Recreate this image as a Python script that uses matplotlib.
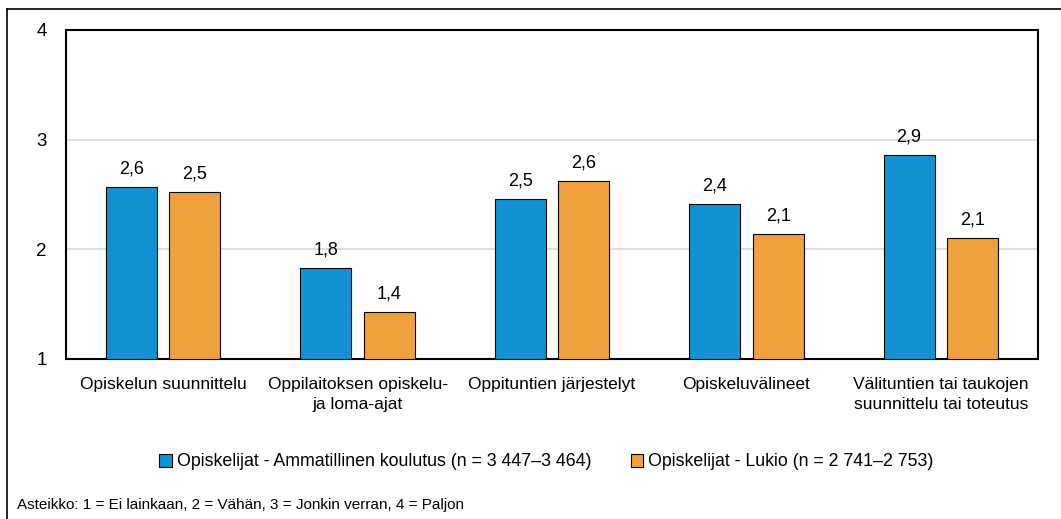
import matplotlib
matplotlib.use("Agg")
import matplotlib.pyplot as plt
import numpy as np
from matplotlib.lines import Line2D

plt.rcParams['font.family'] = ['Liberation Sans', 'DejaVu Sans']

categories = ["Opiskelun suunnittelu", "Oppilaitoksen opiskelu-\nja loma-ajat",
              "Oppituntien järjestelyt", "Opiskeluvälineet",
              "Välituntien tai taukojen\nsuunnittelu tai toteutus"]
ammatillinen = [2.57, 1.83, 2.46, 2.41, 2.86]
lukio = [2.52, 1.43, 2.62, 2.14, 2.10]
series_names = ["Opiskelijat - Ammatillinen koulutus (n = 3 447\u20133 464)",
                "Opiskelijat - Lukio (n = 2 741\u20132 753)"]
yticks = [1, 2, 3, 4]
note = "Asteikko: 1 = Ei lainkaan, 2 = Vähän, 3 = Jonkin verran, 4 = Paljon"

blue = "#1192d3"
orange = "#f0a13e"

fig = plt.figure(figsize=(10.61, 5.19), dpi=100)
ax = fig.add_axes([0.0622, 0.3083, 0.9161, 0.6339])

x = np.arange(len(categories))
w = 0.262
off = 0.163
b1 = ax.bar(x - off, np.array(ammatillinen) - 1, w, bottom=1, color=blue,
            edgecolor="black", linewidth=0.8, label=series_names[0], zorder=3)
b2 = ax.bar(x + off, np.array(lukio) - 1, w, bottom=1, color=orange,
            edgecolor="black", linewidth=0.8, label=series_names[1], zorder=3)

for xs, vals in [(x - off, ammatillinen), (x + off, lukio)]:
    for xi, v in zip(xs, vals):
        ax.annotate(f"{v:.1f}".replace(".", ","), (xi, v), xytext=(0, 7),
                    textcoords="offset points", ha="center", va="bottom",
                    fontsize=13)

ax.set_xlim(-0.5, len(categories) - 0.5)
ax.set_ylim(1, 4)
ax.set_yticks(yticks)
ax.set_yticklabels([str(t) for t in yticks], fontsize=13.5)
ax.set_xticks(x)
ax.set_xticklabels(categories, fontsize=12.5, linespacing=1.45)
ax.tick_params(axis="y", length=0, pad=14)
ax.tick_params(axis="x", length=0, pad=13)
ax.yaxis.grid(True, color="#d9d9d9", linewidth=1.2, zorder=0)
ax.set_axisbelow(True)
for s in ax.spines.values():
    s.set_linewidth(1.5)
    s.set_color("black")

fig.legend(handles=[b1, b2], loc="center", bbox_to_anchor=(0.515, 1 - 462 / 519),
           ncol=2, frameon=False, fontsize=12.8, handlelength=0.7,
           handleheight=0.7, handletextpad=0.3, columnspacing=2.2)

fig.text(17 / 1061, 1 - 505 / 519, note, fontsize=11, va="center", ha="left")

# outer frame (top and left visible)
fig.add_artist(Line2D([7 / 1061, 7 / 1061], [0, 1 - 9 / 519], color="black",
                      linewidth=1.2, transform=fig.transFigure))
fig.add_artist(Line2D([7 / 1061, 1], [1 - 9 / 519, 1 - 9 / 519], color="black",
                      linewidth=1.2, transform=fig.transFigure))

fig.savefig("out.png", dpi=100)
